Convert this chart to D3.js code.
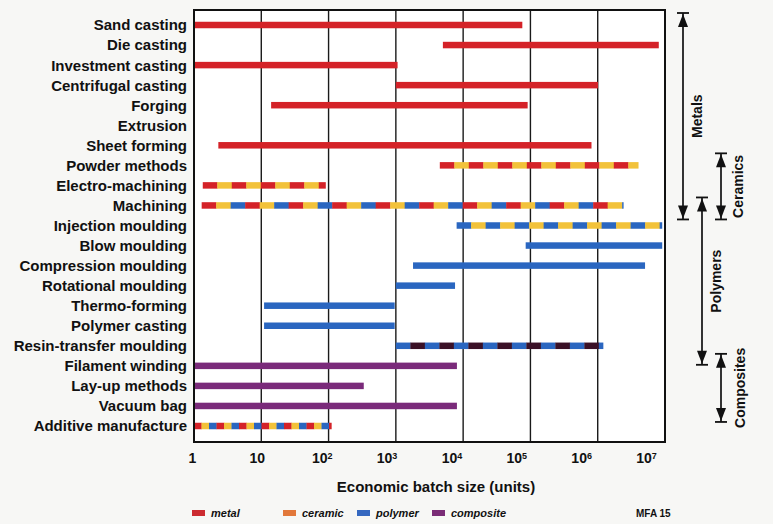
<!DOCTYPE html>
<html>
<head>
<meta charset="utf-8">
<script src="https://cdn.jsdelivr.net/npm/d3@7"></script>
<style>
  html, body { margin: 0; padding: 0; background: #f7f7f5; }
  svg { display: block; font-family: "Liberation Sans", Arial, Helvetica, sans-serif; font-weight: bold; }
</style>
</head>
<body>
<svg id="chart" width="773" height="524"></svg>
<script>
// Processes and their economic batch-size ranges (units)
const categories = [
  "Sand casting", "Die casting", "Investment casting", "Centrifugal casting",
  "Forging", "Extrusion", "Sheet forming", "Powder methods", "Electro-machining",
  "Machining", "Injection moulding", "Blow moulding", "Compression moulding",
  "Rotational moulding", "Thermo-forming", "Polymer casting",
  "Resin-transfer moulding", "Filament winding", "Lay-up methods", "Vacuum bag",
  "Additive manufacture"
];
const lows  = [1, 5000, 1, 1000, 14, null, 2.3, 4500, 1.35, 1.3, 8000, 85000, 1800, 1000, 11, 11, 1000, 1, 1, 1, 1];
const highs = [7.5e4, 8e6, 1050, 1e6, 9e4, null, 8e5, 4e6, 90, 2.4e6, 9e6, 9e6, 5e6, 7500, 950, 950, 1.2e6, 8000, 330, 8000, 110];
// Material classes each process applies to (bar colour sequence)
const materials = [
  ["metal"], ["metal"], ["metal"], ["metal"], ["metal"], ["metal"], ["metal"],
  ["metal", "ceramic"], ["metal", "ceramic"], ["metal", "ceramic", "polymer"],
  ["polymer", "ceramic"], ["polymer"], ["polymer"], ["polymer"], ["polymer"], ["polymer"],
  ["polymer", "resin"], ["composite"], ["composite"], ["composite"],
  ["metal", "ceramic", "polymer"]
];
const tickValues = [1, 10, 100, 1e3, 1e4, 1e5, 1e6, 1e7];
const tickBases = ["1", "10", "10", "10", "10", "10", "10", "10"];
const tickExps  = ["", "", "2", "3", "4", "5", "6", "7"];
const groupNames = ["Metals", "Ceramics", "Polymers", "Composites"];
const groupFirst = ["Sand casting", "Powder methods", "Machining", "Filament winding"];
const groupLast  = ["Machining", "Machining", "Resin-transfer moulding", "Vacuum bag"];
const legendKeys = ["metal", "ceramic", "polymer", "composite"];

// Styles
const barColor = { metal: "#d42228", ceramic: "#f2c23a", polymer: "#2a66c0", composite: "#7a2a7a", resin: "#3a1026" };
const legendColor = { metal: "#cc2b30", ceramic: "#e2783a", polymer: "#3568c0", composite: "#7a2c76" };

const svg = d3.select("#chart");
const plot = { left: 194, right: 665, top: 10, bottom: 442 };

const x = d3.scaleLog().domain([1, 1e7]).range([plot.left, plot.right]);
const xLabel = d3.scaleLog().domain([1, 1e7]).range([192, 646]);
const y = d3.scalePoint().domain(categories).range([25, 426]);

// plot background
svg.append("rect")
  .attr("x", plot.left).attr("y", plot.top)
  .attr("width", plot.right - plot.left).attr("height", plot.bottom - plot.top)
  .attr("fill", "#ffffff");

// decade grid lines
svg.append("g").selectAll("line")
  .data(tickValues.slice(1, -1))
  .join("line")
  .attr("x1", d => x(d)).attr("x2", d => x(d))
  .attr("y1", plot.top).attr("y2", plot.bottom)
  .attr("stroke", "#1a1a1a").attr("stroke-width", 1.4);

// bars, split into coloured segments when several material classes apply
const rows = categories.map((name, i) => ({ name, lo: lows[i], hi: highs[i], mats: materials[i] }))
  .filter(d => d.lo != null && d.hi != null);

const barH = 6.5;
const barG = svg.append("g");
rows.forEach(d => {
  const x0 = x(d.lo), x1 = x(d.hi);
  const segLen = d.name === "Additive manufacture" ? 7.5 : 14.5;
  const segs = [];
  if (d.mats.length === 1) {
    segs.push({ a: x0, b: x1, c: barColor[d.mats[0]] });
  } else {
    let k = 0;
    for (let s = x0; s < x1; s += segLen, k++) {
      segs.push({ a: s, b: Math.min(s + segLen, x1), c: barColor[d.mats[k % d.mats.length]] });
    }
  }
  barG.selectAll(null)
    .data(segs)
    .join("rect")
    .attr("x", s => s.a).attr("width", s => s.b - s.a + 0.3)
    .attr("y", y(d.name) - barH / 2).attr("height", barH)
    .attr("fill", s => s.c);
});

// frame
svg.append("rect")
  .attr("x", plot.left).attr("y", plot.top)
  .attr("width", plot.right - plot.left).attr("height", plot.bottom - plot.top)
  .attr("fill", "none").attr("stroke", "#111").attr("stroke-width", 2);

// category labels
svg.append("g").selectAll("text")
  .data(categories)
  .join("text")
  .attr("x", 187).attr("y", d => y(d))
  .attr("dy", "0.36em")
  .attr("text-anchor", "end")
  .attr("font-size", 15)
  .attr("fill", "#111")
  .text(d => d);

// x axis tick labels with superscript exponents
const axis = d3.axisBottom(xLabel).tickValues(tickValues).tickSize(0).tickFormat(() => "");
const axG = svg.append("g").attr("transform", `translate(0,${plot.bottom + 8})`).call(axis);
axG.select(".domain").remove();
axG.selectAll(".tick text")
  .attr("font-size", 14).attr("font-family", null).attr("fill", "#111")
  .each(function(d, i) {
    const t = d3.select(this);
    t.append("tspan").text(tickBases[i]);
    if (tickExps[i]) t.append("tspan").attr("dy", "-0.45em").attr("font-size", 9).text(tickExps[i]);
  });

// axis title
svg.append("text")
  .attr("x", 436).attr("y", 487).attr("dy", "0.36em")
  .attr("text-anchor", "middle").attr("font-size", 15).attr("fill", "#111")
  .text("Economic batch size (units)");

// material-class brackets on the right
const bracketX = [683, 721, 702, 721];
const bracketTextX = [697, 738, 716, 740];
const bracketPad = [[12, 14], [12, 14], [8, 19], [12, 16]];
const brG = svg.append("g").attr("fill", "#111").attr("stroke", "#111");
groupNames.forEach((name, i) => {
  const bx = bracketX[i];
  const y0 = y(groupFirst[i]) - bracketPad[i][0];
  const y1 = y(groupLast[i]) + bracketPad[i][1];
  brG.append("line").attr("x1", bx).attr("x2", bx).attr("y1", y0).attr("y2", y1).attr("stroke-width", 1.7);
  [y0, y1].forEach((yy, j) => {
    const dir = j === 0 ? 1 : -1;
    brG.append("line").attr("x1", bx - 6).attr("x2", bx + 6).attr("y1", yy).attr("y2", yy).attr("stroke-width", 1.8);
    brG.append("path")
      .attr("d", d3.line()([[bx, yy + dir * 1], [bx - 5, yy + dir * 14], [bx + 5, yy + dir * 14]]) + "Z")
      .attr("stroke", "none");
  });
  svg.append("text")
    .attr("transform", `translate(${bracketTextX[i]},${(y0 + y1) / 2}) rotate(-90)`)
    .attr("text-anchor", "middle").attr("dy", "0.36em")
    .attr("font-size", 14).attr("fill", "#111")
    .text(name);
});

// legend
const legendX = [192, 283, 357, 432];
const lg = svg.append("g");
legendKeys.forEach((k, i) => {
  lg.append("rect").attr("x", legendX[i]).attr("y", 510).attr("width", 13).attr("height", 6)
    .attr("fill", legendColor[k]);
  lg.append("text").attr("x", legendX[i] + 19).attr("y", 513).attr("dy", "0.36em")
    .attr("font-size", 11).attr("font-style", "italic").attr("fill", "#111").text(k);
});
svg.append("text").attr("x", 636).attr("y", 513).attr("dy", "0.36em")
  .attr("font-size", 10).attr("fill", "#111").text("MFA 15");
</script>
</body>
</html>
